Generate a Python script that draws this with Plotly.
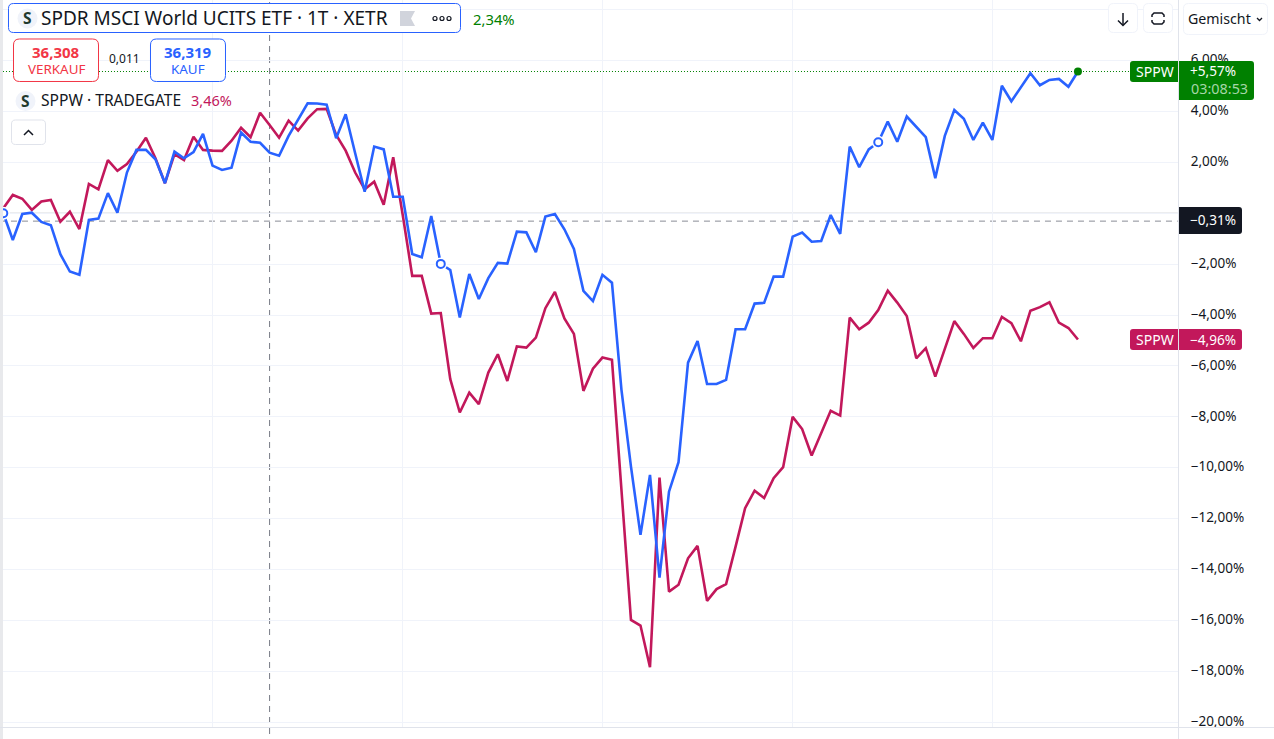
import plotly.graph_objects as go

blue = [0.00,-1.05,-0.03,0.02,-0.34,-0.47,-1.61,-2.29,-2.42,-0.26,-0.21,0.79,0.02,1.60,2.49,2.49,2.12,1.18,2.42,2.16,2.40,3.12,1.87,1.70,1.79,3.17,2.81,2.77,2.38,2.26,3.04,3.67,
        4.32,4.31,4.27,2.95,3.89,2.36,0.85,2.62,2.51,0.65,0.65,-1.60,-1.73,-0.11,-1.99,-2.23,-4.10,-2.39,-3.37,-2.55,-1.95,-1.98,-0.72,-0.75,-1.53,-0.13,-0.03,-0.63,-1.40,-3.05,-3.45,
        -2.42,-2.73,-6.94,-9.96,-12.64,-10.28,-14.32,-10.94,-9.78,-5.87,-5.02,-6.71,-6.71,-6.55,-4.56,-4.56,-3.55,-3.52,-2.49,-2.49,
        -0.92,-0.76,-1.12,-1.09,-0.07,-0.81,2.62,1.81,2.51,2.79,3.60,2.81,3.80,3.38,2.99,1.38,3.04,4.06,3.71,2.88,3.56,2.88,5.01,4.40,4.95,5.50,5.03,5.24,5.28,4.97,5.57]
red = [0.20,0.72,0.57,0.13,0.46,0.52,-0.33,0.06,-0.62,1.15,0.94,2.09,1.67,1.93,2.42,2.97,2.16,1.18,2.32,2.09,3.01,2.49,2.46,2.45,2.85,3.36,2.99,3.95,3.47,2.97,3.64,3.25,
       3.73,4.09,4.10,3.08,2.46,1.60,0.94,1.24,0.33,2.20,-0.07,-2.46,-2.46,-3.94,-3.92,-6.52,-7.83,-7.05,-7.50,-6.26,-5.54,-6.59,-5.23,-5.28,-4.89,-3.73,-3.09,-4.13,-4.74,-6.98,-6.11,
       -5.67,-5.76,-11.0,-15.98,-16.20,-17.84,-10.39,-14.87,-14.60,-13.56,-13.07,-15.23,-14.77,-14.57,-13.10,-11.59,-10.90,-11.19,-10.41,-9.98,
       -8.00,-8.48,-9.52,-8.62,-7.76,-7.95,-4.10,-4.56,-4.30,-3.80,-3.04,-3.51,-4.04,-5.70,-5.30,-6.42,-5.30,-4.24,-4.74,-5.29,-4.91,-4.91,-4.07,-4.32,-5.03,-3.83,-3.69,-3.50,-4.30,-4.51,-4.96]
x_idx = list(range(len(blue)))
x_grid = [22, 42, 63, 83, 104]
session_break = 28
marker_idx = [0, 46, 92]
y_ticks = [8, 6, 4, 2, 0, -2, -4, -6, -8, -10, -12, -14, -16, -18, -20]
y_labels = ["", "6,00%", "4,00%", "2,00%", "0,00%", "−2,00%", "−4,00%", "−6,00%", "−8,00%", "−10,00%",
            "−12,00%", "−14,00%", "−16,00%", "−18,00%", "−20,00%"]
base_level = -0.31
last_level = 5.57

W, H = 1274, 739
BLUE, RED, GREEN, DARK = "#2962ff", "#c2185b", "#008000", "#131722"
FONT = "Noto Sans"
px = lambda v: v / W
py = lambda v: 1 - v / H


def rpath(x0, y0, x1, y1, r=4, left=True, right=True):
    rl, rr = (r if left else 0), (r if right else 0)
    P = lambda a, b: f"{px(a):.5f},{py(b):.5f}"
    return (f"M{P(x0 + rl, y0)} L{P(x1 - rr, y0)} Q{P(x1, y0)} {P(x1, y0 + rr)} L{P(x1, y1 - rr)} "
            f"Q{P(x1, y1)} {P(x1 - rr, y1)} L{P(x0 + rl, y1)} Q{P(x0, y1)} {P(x0, y1 - rl)} "
            f"L{P(x0, y0 + rl)} Q{P(x0, y0)} {P(x0 + rl, y0)} Z")


shapes, notes = [], []


def box(x0, y0, x1, y1, fill="#ffffff", line=None, lw=1, r=4, **kw):
    shapes.append(dict(type="path", xref="paper", yref="paper", path=rpath(x0, y0, x1, y1, r, **kw),
                       fillcolor=fill, line=dict(color=line or fill, width=lw if line else 0), layer="above"))


def poly(points, color, lw=1.5):
    d = " ".join(("M" if i == 0 else "L") + f"{px(a):.5f},{py(b):.5f}" for i, (a, b) in enumerate(points))
    shapes.append(dict(type="path", xref="paper", yref="paper", path=d,
                       line=dict(color=color, width=lw), layer="above"))


def dot(cx, cy, r, fill, line=None, lw=1):
    shapes.append(dict(type="circle", xref="paper", yref="paper", x0=px(cx - r), x1=px(cx + r), y0=py(cy + r), y1=py(cy - r),
                       fillcolor=fill, line=dict(color=line or fill, width=lw if line else 0), layer="above"))


def text(x, y, s, size, color, anchor="left", bold=False):
    notes.append(dict(xref="paper", yref="paper", x=px(x), y=py(y), text=f"<b>{s}</b>" if bold else s, showarrow=False,
                      xanchor=anchor, yanchor="middle", borderpad=0, borderwidth=0,
                      font=dict(family=FONT, size=size, color=color)))


# reference lines
shapes += [
    dict(type="line", xref="x", yref="y", x0=-0.35, x1=123.5, y0=0, y1=0, line=dict(color="#b2b5be", width=1), layer="below"),
    dict(type="line", xref="x", yref="y", x0=-0.35, x1=123.5, y0=base_level, y1=base_level,
         line=dict(color="#8a8d96", width=1, dash="6px,5px"), layer="below"),
    dict(type="line", xref="x", yref="paper", x0=session_break, x1=session_break, y0=py(734), y1=1,
         line=dict(color="#787b86", width=1, dash="6px,5px"), layer="below"),
    dict(type="line", xref="x", yref="y", x0=-0.35, x1=118.7, y0=last_level, y1=last_level,
         line=dict(color=GREEN, width=1, dash="1px,2px"), layer="below"),
    dict(type="rect", xref="paper", yref="paper", x0=0, x1=px(3), y0=0, y1=1, fillcolor="#e8e9ec", line=dict(width=0), layer="above"),
    dict(type="line", xref="paper", yref="paper", x0=px(1178.5), x1=px(1178.5), y0=0, y1=1, line=dict(color="#e0e3eb", width=1), layer="above"),
    dict(type="line", xref="paper", yref="paper", x0=0, x1=1, y0=py(727.5), y1=py(727.5), line=dict(color="#e0e3eb", width=1), layer="above"),
]

# title box
box(8.5, 3.5, 460.5, 32.5, line=BLUE, lw=1, r=5)
dot(27.5, 18.5, 10, "#f0f3fa")
text(27.5, 18, "S", 15.5, "#22392d", "center", True)
text(41, 18, "SPDR MSCI World UCITS ETF · 1T · XETR", 19, DARK)
shapes.append(dict(type="path", xref="paper", yref="paper", fillcolor="#d1d4dc", line=dict(width=0), layer="above",
                   path=f"M{px(400):.5f},{py(11):.5f} L{px(415):.5f},{py(11):.5f} L{px(411):.5f},{py(18.5):.5f} "
                        f"L{px(415):.5f},{py(26):.5f} L{px(400):.5f},{py(26):.5f} Z"))
for c in (435, 442, 449):
    dot(c, 18.5, 2, "#ffffff", line=DARK, lw=1.2)
text(473, 18.5, "2,34%", 14.8, GREEN)

# bid / ask boxes
box(13.5, 39, 98.5, 81.5, line="#f23645", r=6)
text(56, 52, "36,308", 15, "#f23645", "center", True)
text(56, 69, "VERKAUF", 13.4, "#f23645", "center")
text(124, 58.5, "0,011", 12, DARK, "center")
box(150.5, 39, 225.5, 81.5, line=BLUE, r=6)
text(188, 52, "36,319", 15, BLUE, "center", True)
text(188, 69, "KAUF", 13.4, BLUE, "center")

# secondary legend
dot(25.5, 101, 10, "#f0f3fa")
text(25.5, 100.5, "S", 15.5, "#22392d", "center", True)
text(41, 100, "SPPW · TRADEGATE", 15.6, DARK)
text(191, 100, "3,46%", 14.5, RED)
box(11.5, 120, 45.5, 144.5, line="#e0e3eb", r=4)
poly([(24, 135), (28.5, 130.5), (33, 135)], DARK)

# top right buttons
box(1108.5, 3.5, 1137.5, 32.5, line="#f0f3fa", r=5)
poly([(1123, 13), (1123, 25)], DARK)
poly([(1118, 20.5), (1123, 25.5), (1128, 20.5)], DARK)
box(1143.5, 3.5, 1172.5, 32.5, line="#f0f3fa", r=5)
poly([(1152, 17), (1152, 15), (1154, 13), (1162, 13), (1164, 15), (1164, 17)], DARK)
poly([(1152, 20), (1152, 22), (1154, 24), (1162, 24), (1164, 22), (1164, 20)], DARK)
box(1183.5, 3.5, 1267.5, 34.5, line="#f0f3fa", r=5)
text(1188, 19, "Gemischt", 14.2, DARK)
poly([(1257, 18), (1259.5, 20.5), (1262, 18)], DARK, 1.3)

# price badges
box(1130, 61, 1178, 82, fill=GREEN, r=3, right=False)
text(1154.5, 71, "SPPW", 14, "#ffffff", "center")
box(1179, 61, 1254, 100, fill=GREEN, r=3, left=False)
text(1213, 70.5, "+5,57%", 13.6, "#ffffff", "center")
text(1219, 88.5, "03:08:53", 14.4, "#a5d6a7", "center")
box(1179, 207, 1242, 234, fill=DARK, r=3, left=False)
text(1213, 220, "−0,31%", 13.6, "#ffffff", "center")
box(1130, 329, 1178, 350, fill=RED, r=3, right=False)
text(1154.5, 339, "SPPW", 14, "#ffffff", "center")
box(1179, 329, 1242, 350, fill=RED, r=3, left=False)
text(1213, 339, "−4,96%", 13.6, "#ffffff", "center")

fig = go.Figure()
fig.add_trace(go.Scatter(x=x_idx, y=red, mode="lines", line=dict(color=RED, width=2.6), cliponaxis=False))
fig.add_trace(go.Scatter(x=x_idx, y=blue, mode="lines", line=dict(color=BLUE, width=2.6), cliponaxis=False))
fig.add_trace(go.Scatter(x=marker_idx, y=[blue[i] for i in marker_idx], mode="markers",
                         marker=dict(size=13, color="#ffffff", line=dict(width=0))))
fig.add_trace(go.Scatter(x=marker_idx, y=[blue[i] for i in marker_idx], mode="markers",
                         marker=dict(size=8, color="#ffffff", line=dict(color=BLUE, width=2))))
fig.add_trace(go.Scatter(x=[x_idx[-1]], y=[blue[-1]], mode="markers", marker=dict(size=8, color=GREEN)))

fig.update_layout(
    width=W, height=H, margin=dict(l=0, r=0, t=0, b=0, autoexpand=False), showlegend=False,
    paper_bgcolor="#ffffff", plot_bgcolor="#ffffff", shapes=shapes, annotations=notes,
    xaxis=dict(domain=[0, 1178 / W], range=[-0.347, 123.52], tickvals=x_grid, showticklabels=False, ticks="",
               showgrid=True, gridcolor="#f0f3fa", gridwidth=1, zeroline=False, showline=False),
    yaxis=dict(domain=[(H - 727.3) / H, 1], range=[-20.2, 8.38], side="right", tickvals=y_ticks, ticktext=y_labels,
               ticks="outside", ticklen=9, tickcolor="rgba(0,0,0,0)", tickfont=dict(family=FONT, size=13.5, color=DARK),
               ticklabelshift=-1,
               showgrid=True, gridcolor="#f0f3fa", gridwidth=1, zeroline=False, showline=False),
)
fig.write_html("out.html", config=dict(displayModeBar=False),
               post_script="document.body.style.margin='0';")
